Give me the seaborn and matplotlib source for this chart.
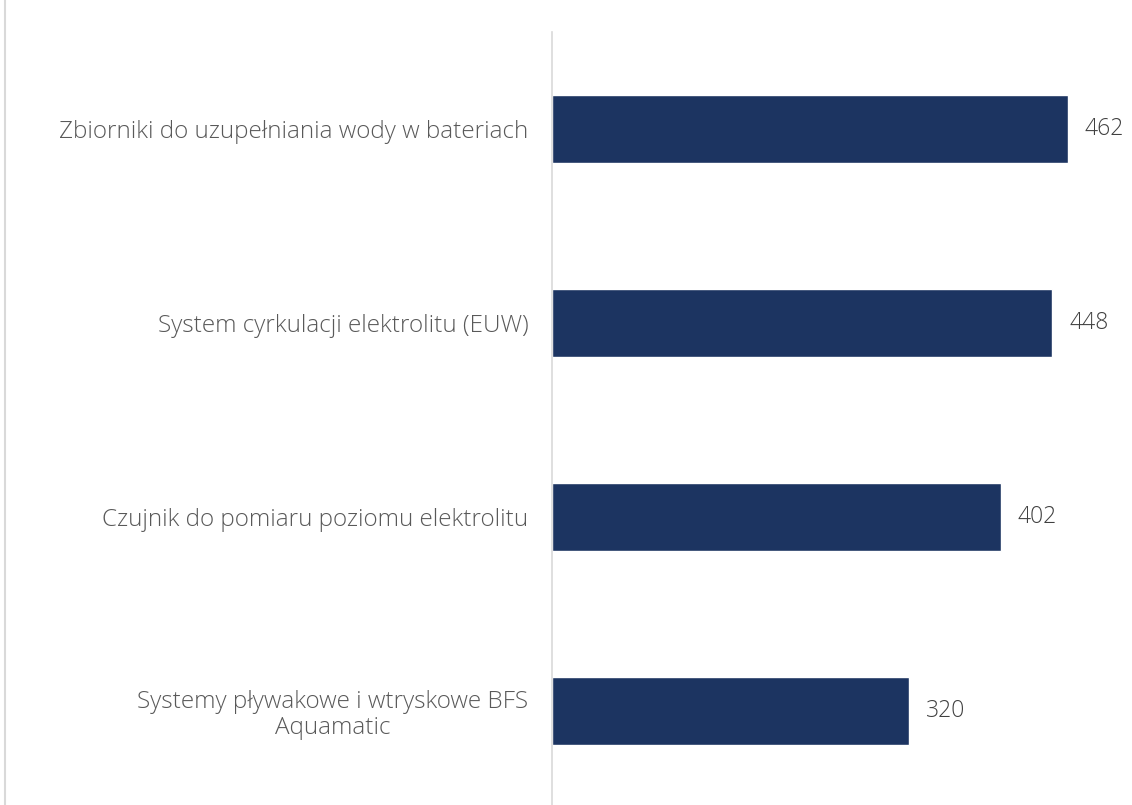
import matplotlib
matplotlib.use("Agg")
import matplotlib.pyplot as plt
from matplotlib.lines import Line2D
import seaborn as sns
import pandas as pd

categories = [
    "Zbiorniki do uzupełniania wody w bateriach",
    "System cyrkulacji elektrolitu (EUW)",
    "Czujnik do pomiaru poziomu elektrolitu",
    "Systemy pływakowe i wtryskowe BFS\nAquamatic",
]
values = [462, 448, 402, 320]

bar_color = "#1C3461"
text_color = "#595959"

sns.set_theme(style="white")
plt.rcParams["font.family"] = ["Open Sans", "DejaVu Sans"]

df = pd.DataFrame({"kategoria": categories, "liczba": values})

fig = plt.figure(figsize=(11.32, 8.05), dpi=100)
ax = fig.add_axes([552 / 1132, -3 / 805, 580 / 1132, 776 / 805])

sns.barplot(data=df, x="liczba", y="kategoria", color=bar_color,
            width=0.35, saturation=1, ax=ax)

ax.set_xlim(0, 580 / 1.117)
ax.set_ylim(3.5, -0.5)
ax.set_xlabel("")
ax.set_ylabel("")
ax.set_xticks([])
for s in ["top", "right", "bottom"]:
    ax.spines[s].set_visible(False)
ax.spines["left"].set_color("#D9D9D9")
ax.spines["left"].set_linewidth(1.2)

ax.tick_params(axis="y", length=0, pad=17)
for lbl in ax.get_yticklabels():
    lbl.set_fontsize(17.5)
    lbl.set_fontweight("light")
    lbl.set_color(text_color)
    lbl.set_multialignment("center")
    lbl.set_linespacing(1.1)

for i, v in enumerate(values):
    ax.annotate(str(v), xy=(v, i), xytext=(12, 0), textcoords="offset points",
                va="center", ha="left", fontsize=16.5, fontweight="light",
                color="#404040")

# thin frame line on the left edge
fig.add_artist(Line2D([4.5 / 1132, 4.5 / 1132], [0, 1], transform=fig.transFigure,
                      color="#D9D9D9", linewidth=1.5))

plt.savefig("out.png", dpi=100)
